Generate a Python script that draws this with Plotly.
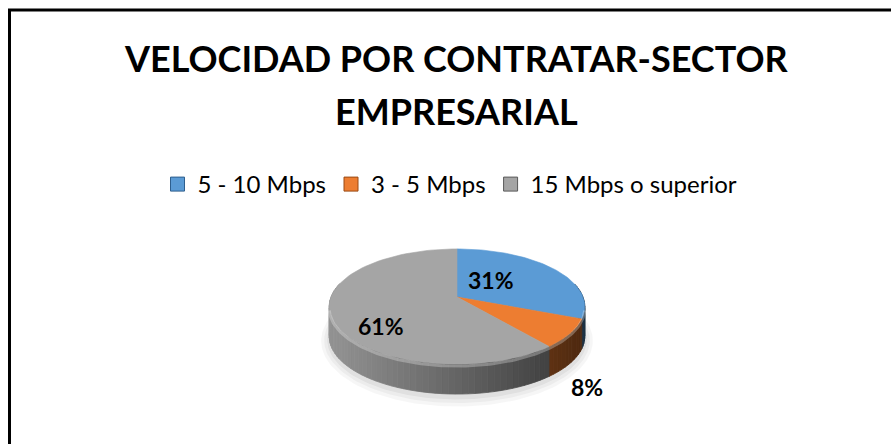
import numpy as np
import plotly.graph_objects as go

# ---- data ----
categories = ["5 - 10 Mbps", "3 - 5 Mbps", "15 Mbps o superior"]
values = [31, 8, 61]
colors = ["#5B9BD5", "#ED7D31", "#A5A5A5"]
edge_colors = ["#2E5F8E", "#9A4A14", "#5A5A5A"]

title_lines = ["VELOCIDAD POR CONTRATAR-SECTOR", "EMPRESARIAL"]

# ---- canvas / pie geometry (pixel space) ----
W, H = 891, 444
CX, CY = 457, 297        # centre of the top face
RX, RY = 126, 56         # radii of the top face
PERSP = 0.165            # foreshortening of the far half
DEPTH = 30               # thickness of the disc
label_pos = [(491, 280), (587, 387), (381, 326)]
title_y = [58, 111]
TITLE_X = 456
FONT = "Lato"


def project(r, theta):
    """theta: clockwise angle from 12 o'clock (radians)."""
    u = r * np.sin(theta)
    v = r * np.cos(theta)
    s = 1.0 / (1.0 + PERSP * v)
    return CX + RX * u * s, CY - RY * v * s


def hex_rgb(h):
    h = h.lstrip("#")
    return tuple(int(h[i:i + 2], 16) for i in (0, 2, 4))


def shade(hexcol, f):
    r, g, b = hex_rgb(hexcol)
    return "rgb(%d,%d,%d)" % (r * f, g * f, b * f)


fig = go.Figure()

# slice angles from the values
total = float(sum(values))
bounds = np.concatenate([[0.0], np.cumsum(values) / total * 2 * np.pi])

# soft shadow under the disc
tt = np.linspace(0, 2 * np.pi, 200)
for grow, alpha in [(8, 0.035), (5, 0.04), (2, 0.05)]:
    sx, sy = project(1.0, tt)
    sx = CX + (sx - CX) * (1 + grow / RX)
    sy = CY + (sy - CY) * (1 + grow / RY) + DEPTH + 3
    fig.add_trace(go.Scatter(x=sx, y=sy, fill="toself", mode="lines",
                             line=dict(width=0), fillcolor="rgba(0,0,0,%g)" % alpha,
                             hoverinfo="skip", showlegend=False))

# side wall, split into narrow shaded bands (light from the left)
xmin, xmax = CX - RX * 1.02, CX + RX * 1.02
for i in range(len(values)):
    a0, a1 = bounds[i], bounds[i + 1]
    n = max(2, int(np.degrees(a1 - a0) / 2.5))
    angs = np.linspace(a0, a1, n + 1)
    for j in range(n):
        t0, t1 = angs[j], angs[j + 1]
        if np.cos((t0 + t1) / 2) > 0.25:
            continue  # hidden behind the top face
        x0, y0 = project(1.0, t0)
        x1, y1 = project(1.0, t1)
        s = ((x0 + x1) / 2 - xmin) / (xmax - xmin)
        f = 0.9 - 0.58 * s
        col = shade(colors[i], f)
        fig.add_trace(go.Scatter(
            x=[x0, x1, x1, x0, x0], y=[y0, y1, y1 + DEPTH, y0 + DEPTH, y0],
            fill="toself", mode="lines", line=dict(width=0.8, color=col),
            fillcolor=col, hoverinfo="skip", showlegend=False))

# top faces
for i in range(len(values)):
    angs = np.linspace(bounds[i], bounds[i + 1], 80)
    px, py = project(1.0, angs)
    xs = np.concatenate([[CX], px, [CX]])
    ys = np.concatenate([[CY], py, [CY]])
    fig.add_trace(go.Scatter(x=xs, y=ys, fill="toself", mode="lines",
                             line=dict(width=0.6, color=colors[i]),
                             fillcolor=colors[i], hoverinfo="skip",
                             showlegend=False))

# bevel highlight along the front rim
front = np.linspace(np.pi / 2 + 0.2, 3 * np.pi / 2 - 0.2, 120)
hx, hy = project(1.0, front)
fig.add_trace(go.Scatter(x=hx, y=hy + 2, mode="lines",
                         line=dict(width=3, color="rgba(255,255,255,0.28)"),
                         hoverinfo="skip", showlegend=False))

# legend entries
for cat, col, ec in zip(categories, colors, edge_colors):
    fig.add_trace(go.Scatter(x=[None], y=[None], mode="markers", name=cat,
                             marker=dict(symbol="square", size=14, color=col,
                                         line=dict(width=1, color=ec))))

annotations = []
# chart title
for line, ty in zip(title_lines, title_y):
    annotations.append(dict(x=TITLE_X, y=ty, xref="x", yref="y", text=line,
                            showarrow=False, yanchor="middle",
                            font=dict(family=FONT, size=36, color="black",
                                      weight="bold")))
# data labels
for v, (lx, ly) in zip(values, label_pos):
    annotations.append(dict(x=lx, y=ly, xref="x", yref="y", text="%d%%" % v,
                            showarrow=False,
                            font=dict(family=FONT, size=23, color="black",
                                      weight="bold")))

fig.update_layout(
    width=W, height=H,
    margin=dict(l=0, r=0, t=0, b=0),
    paper_bgcolor="white", plot_bgcolor="white",
    xaxis=dict(range=[0, W], visible=False, fixedrange=True),
    yaxis=dict(range=[H, 0], visible=False, fixedrange=True),
    showlegend=True,
    legend=dict(orientation="h", x=(TITLE_X - 6) / W, xanchor="center",
                y=1 - 162 / H, yanchor="top",
                font=dict(family=FONT, size=24, color="black"),
                bgcolor="rgba(0,0,0,0)", itemclick=False),
    annotations=annotations,
    shapes=[dict(type="rect", xref="x", yref="y", x0=9.5, y0=10, x1=W + 20,
                 y1=H + 20, line=dict(color="black", width=3))],
)

fig.write_html("out.html")
